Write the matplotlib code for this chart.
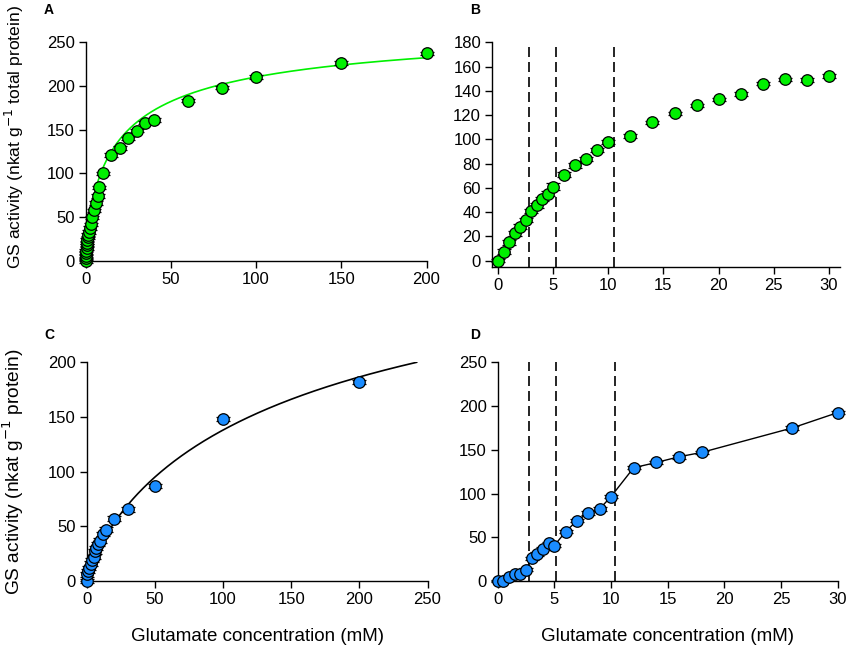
import numpy as np
import matplotlib.pyplot as plt

plt.rcParams["font.family"] = ["Liberation Sans", "DejaVu Sans"]

# ── Data ───────────────────────────────────────────────────────────────────
# A: full range, total protein extract
a_conc = [0, 0.1, 0.2, 0.3, 0.4, 0.5, 0.6, 0.8, 1.0, 1.25, 1.5, 2, 2.5, 3, 4,
          5, 6, 7, 8, 10, 15, 20, 25, 30, 35, 40, 60, 80, 100, 150, 200]
a_act = [0, 3, 6, 9, 12, 15, 18, 21, 24, 27, 30, 33, 38, 42, 50,
         58, 66, 74, 84, 100, 121, 129, 140, 149, 158, 161, 183, 198, 210, 226, 237]
a_err = [2, 2, 2, 2, 2, 2, 2, 2, 2, 2, 2, 2, 2, 2, 2,
         2, 2, 2, 2, 2, 2, 2, 2, 2, 2, 2, 2, 2, 2, 2, 2]
# Hill-type fit drawn through A
A_VMAX, A_K, A_N = 278.7, 20.2, 0.7

# B: 0-30 mM
b_conc = [0, 0.5, 1, 1.5, 2, 2.5, 3, 3.5, 4, 4.5, 5, 6, 7, 8, 9, 10,
          12, 14, 16, 18, 20, 22, 24, 26, 28, 30]
b_act = [0, 7.4, 15, 22.6, 28, 33.5, 41, 45.6, 50.8, 55.2, 61, 71, 78.6, 83.6, 91, 97.6,
         102.8, 114, 121.5, 128, 133, 137.4, 146, 149.5, 149.2, 152.5]
b_err = [1.5, 2, 2, 2, 2, 2, 2, 2, 2, 2, 3, 2, 2, 1.5, 1.5, 1.5,
         1.5, 1.5, 1.5, 1.5, 1.5, 1.5, 1.5, 1.5, 1.5, 1.5]

# C: full range, purified protein
c_conc = [0, 0.5, 1, 2, 3, 4, 5, 6, 7, 8, 10, 12, 14, 20, 30, 50, 100, 200]
c_act = [0, 6, 9, 12, 16, 19, 22, 27, 30, 34, 37, 43, 47, 57, 65.5, 87, 148, 182]
c_err = [1.5, 2, 2, 2, 2, 2, 2, 2, 2, 2, 2, 2, 2, 2, 2, 2, 2, 2]
C_VMAX, C_K, C_N = 354.9, 175.8, 0.8
C_FIT_END = 242

# D: 0-30 mM
d_conc = [0, 0.5, 1, 1.5, 2, 2.5, 3, 3.5, 4, 4.5, 5, 6, 7, 8, 9, 10,
          12, 14, 16, 18, 26, 30]
d_act = [0, 0, 5, 8, 8, 13, 26, 31, 37, 43, 40.5, 56.5, 69, 78, 82.5, 96.5,
         129.5, 135.5, 142, 147, 175, 192.5]
d_err = [1.5, 1.5, 1.5, 1.5, 1.5, 1.5, 2, 2, 2, 2, 2, 2, 2, 2, 2, 2,
         2, 2, 2, 2, 2, 2]

# kinetic breakpoints (dashed lines)
b_breaks = [2.8, 5.25, 10.5]
d_breaks = [2.75, 5.15, 10.35]

GREEN = "#00f000"
BLUE = "#1a8cff"
TICK_FS = 12
LABEL_FS = 13.5
MS = 8.3


def hill(s, vmax, k, n):
    s = np.asarray(s, dtype=float)
    return vmax * s**n / (k**n + s**n)


def style(ax, xlim, ylim, xticks, yticks):
    ax.set_xlim(*xlim)
    ax.set_ylim(*ylim)
    ax.set_xticks(xticks)
    ax.set_yticks(yticks)
    for side in ("top", "right"):
        ax.spines[side].set_visible(False)
    for side in ("left", "bottom"):
        ax.spines[side].set_linewidth(1.0)
    ax.tick_params(direction="out", length=5, width=1, labelsize=TICK_FS, pad=3)


def points(ax, x, y, err, color):
    ax.errorbar(x, y, yerr=err, fmt="o", ms=MS, mfc=color, mec="black", mew=0.9,
                ecolor="black", elinewidth=1.0, capsize=5, capthick=1.0,
                clip_on=False, zorder=4)


fig = plt.figure(figsize=(8.5, 6.56), dpi=100)
ax_a = fig.add_axes([0.1008, 0.602, 0.401, 0.334])
ax_b = fig.add_axes([0.579, 0.5934, 0.409, 0.342])
ax_c = fig.add_axes([0.102, 0.1143, 0.401, 0.3334])
ax_d = fig.add_axes([0.5855, 0.1143, 0.400, 0.3334])

# ── A ──
s = np.linspace(0, max(a_conc), 600)
ax_a.plot(s, hill(s, A_VMAX, A_K, A_N), color=GREEN, lw=1.2, zorder=3)
points(ax_a, a_conc, a_act, a_err, GREEN)
style(ax_a, (0, 200), (0, 250), range(0, 201, 50), range(0, 251, 50))
ax_a.set_ylabel("GS activity (nkat g$^{-1}$ total protein)", fontsize=12.6)

# ── B ──
for xb in b_breaks:
    ax_b.axvline(xb, color="black", lw=1.2, dashes=(6, 3), zorder=2)
points(ax_b, b_conc, b_act, b_err, GREEN)
style(ax_b, (-0.55, 31), (-5, 180), range(0, 31, 5), range(0, 181, 20))

# ── C ──
s = np.linspace(0, C_FIT_END, 600)
ax_c.plot(s, hill(s, C_VMAX, C_K, C_N), color="black", lw=1.2, zorder=3)
points(ax_c, c_conc, c_act, c_err, BLUE)
style(ax_c, (0, 250), (0, 200), range(0, 251, 50), range(0, 201, 50))
ax_c.set_ylabel("GS activity (nkat g$^{-1}$ protein)", fontsize=13.8)
ax_c.set_xlabel("Glutamate concentration (mM)", fontsize=LABEL_FS, labelpad=15)

# ── D ──
for xb in d_breaks:
    ax_d.axvline(xb, color="black", lw=1.2, dashes=(6, 3), zorder=2)
ax_d.plot(d_conc, d_act, color="black", lw=1.0, zorder=3, clip_on=False)
points(ax_d, d_conc, d_act, d_err, BLUE)
style(ax_d, (0, 30), (0, 250), range(0, 31, 5), range(0, 251, 50))
ax_d.set_xlabel("Glutamate concentration (mM)", fontsize=LABEL_FS, labelpad=15)

ax_a.yaxis.set_label_coords(-0.175, 0.565)
ax_c.yaxis.set_label_coords(-0.178, 0.5)

# panel letters
for lab, (px, py) in {"A": (49, 10), "B": (475, 10), "C": (49, 335), "D": (475, 335)}.items():
    fig.text(px / 850, 1 - py / 656, lab, fontsize=10, fontweight="bold",
             ha="center", va="center")

fig.savefig("out.png", dpi=100)
